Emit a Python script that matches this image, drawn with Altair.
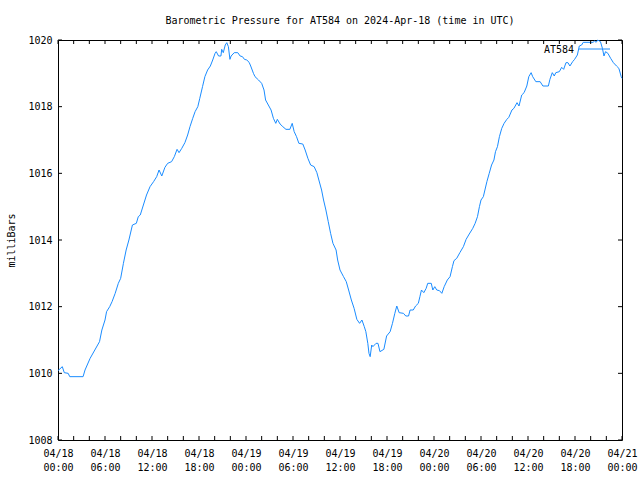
import altair as alt
import pandas as pd

# hours after 2024-04-18 00:00 UTC
hours = [0, 0.55, 0.8, 1.3, 1.5, 3.2, 3.45, 4.1, 4.7, 5.3, 5.6, 6.0, 6.2, 6.6, 6.9, 7.3, 7.7, 8.0,
         8.35, 8.7, 9.05, 9.5, 10.0, 10.25, 10.5, 10.9, 11.3, 11.75, 12.2, 12.6, 12.9, 13.25, 13.65,
         14.0, 14.5, 14.85, 15.2, 15.45, 15.8, 16.2, 16.55, 16.85, 17.2, 17.5, 17.85, 18.1, 18.45,
         18.75, 19.1, 19.45, 19.75, 20.05, 20.2, 20.5, 20.8, 20.9, 21.1, 21.35, 21.55, 21.75, 21.95,
         22.1, 22.5, 22.95, 23.25, 23.55, 23.8, 24.1, 24.4, 24.6, 24.95,
         25.15, 25.6, 26.0, 26.3, 26.5, 26.85, 27.2, 27.5, 27.8, 28.0, 28.35, 28.7, 29.1, 29.6, 29.9,
         30.15, 30.45, 30.75, 31.25, 31.55, 31.9, 32.25, 32.7, 33.05, 33.3, 33.65, 33.9, 34.2, 34.5,
         34.8, 35.1, 35.5, 35.7, 36.0, 36.45, 36.8, 37.1, 37.45, 37.8, 38.15, 38.5, 38.8, 39.1, 39.3,
         39.55, 39.7, 39.85, 40.05, 40.2, 40.6, 40.85, 41.1, 41.6, 41.95, 42.4, 42.7, 43.0, 43.25,
         43.55, 44.1, 44.4, 44.75, 44.95, 45.35, 45.65, 46.0, 46.2, 46.4, 46.7, 47.0, 47.2, 47.65,
         47.85, 48.1, 48.35, 48.7,
         49.0, 49.3, 49.7, 50.05, 50.35, 50.55, 50.9, 51.3, 51.75, 52.1, 52.5, 52.95, 53.25, 53.55,
         53.8, 54.0, 54.3, 54.5, 54.75, 55.05, 55.35, 55.65, 55.85, 56.1, 56.35, 56.65, 56.95, 57.3,
         57.55, 57.95, 58.2, 58.6, 58.85, 59.2, 59.5, 59.85, 60.1, 60.4, 60.6, 61.0, 61.55, 61.9,
         62.6, 62.8, 63.1, 63.35, 63.55, 64.0, 64.3, 64.55, 64.85, 65.1, 65.35, 65.7, 65.95, 66.3,
         66.55, 66.85, 67.05, 68.3, 68.5, 68.7, 68.9, 69.25, 69.5, 69.7, 69.9, 70.2, 70.55, 70.9,
         71.3, 71.6, 71.9, 72.0]

pressure = [1010.08, 1010.2, 1010.02, 1010.0, 1009.9, 1009.9, 1010.1, 1010.45, 1010.7, 1010.95,
            1011.3, 1011.6, 1011.85, 1012.0, 1012.15, 1012.4, 1012.7, 1012.85, 1013.3, 1013.7,
            1014.0, 1014.45, 1014.5, 1014.7, 1014.75, 1015.05, 1015.35, 1015.6, 1015.75, 1015.9,
            1016.1, 1015.92, 1016.18, 1016.3, 1016.35, 1016.5, 1016.72, 1016.62, 1016.75, 1016.92,
            1017.15, 1017.4, 1017.65, 1017.85, 1018.0, 1018.25, 1018.6, 1018.9, 1019.1, 1019.22,
            1019.4, 1019.6, 1019.65, 1019.52, 1019.52, 1019.72, 1019.62, 1019.85, 1019.92, 1019.8,
            1019.42, 1019.52, 1019.62, 1019.62, 1019.52, 1019.5, 1019.42, 1019.4, 1019.33, 1019.22,
            1019.0,
            1018.9, 1018.8, 1018.7, 1018.5, 1018.2, 1018.05, 1017.9, 1017.65, 1017.5, 1017.62,
            1017.48, 1017.4, 1017.32, 1017.32, 1017.5, 1017.25, 1017.1, 1016.9, 1016.88, 1016.7,
            1016.45, 1016.25, 1016.2, 1016.02, 1015.8, 1015.5, 1015.2, 1014.9, 1014.55, 1014.2,
            1013.9, 1013.7, 1013.4, 1013.1, 1012.9, 1012.75, 1012.5, 1012.2, 1011.95, 1011.62,
            1011.5, 1011.6, 1011.4, 1011.25, 1010.9, 1010.6, 1010.5, 1010.85, 1010.8, 1010.9,
            1010.9, 1010.65, 1010.72, 1011.12, 1011.25, 1011.5, 1011.8, 1012.02, 1011.82, 1011.8,
            1011.72, 1011.72, 1011.9, 1011.9, 1012.02, 1012.1, 1012.3, 1012.5, 1012.42, 1012.55,
            1012.7, 1012.7, 1012.5, 1012.6, 1012.5, 1012.48,
            1012.4, 1012.6, 1012.8, 1012.9, 1013.2, 1013.38, 1013.45, 1013.62, 1013.8, 1014.02,
            1014.18, 1014.35, 1014.5, 1014.7, 1015.0, 1015.2, 1015.3, 1015.5, 1015.75, 1016.0,
            1016.25, 1016.4, 1016.65, 1016.8, 1017.1, 1017.35, 1017.5, 1017.62, 1017.68, 1017.9,
            1017.95, 1018.12, 1018.02, 1018.35, 1018.42, 1018.62, 1018.9, 1019.02, 1018.9, 1018.75,
            1018.75, 1018.62, 1018.62, 1018.82, 1019.02, 1018.92, 1019.02, 1019.05, 1019.18,
            1019.12, 1019.32, 1019.32, 1019.22, 1019.35, 1019.42, 1019.55, 1019.82, 1019.85,
            1019.93, 1019.93, 1019.97, 1019.93, 1020.0, 1019.95, 1019.75, 1019.52, 1019.65,
            1019.6, 1019.45, 1019.32, 1019.22, 1019.15, 1018.9, 1018.85]

x_tick_hours = list(range(0, 73, 2))
x_label_hours = list(range(0, 73, 6))
y_ticks = [1008, 1010, 1012, 1014, 1016, 1018, 1020]

FONT = "DejaVu Sans Mono"
LINE_COLOR = "#1a8cff"
W, H = 564, 400

base = pd.Timestamp("2024-04-18T00:00:00Z")


def iso(h):
    return (base + pd.Timedelta(hours=h)).strftime("%Y-%m-%dT%H:%M:%SZ")


def dt(h):
    return alt.DateTime(year=2024, month=4, date=18 + h // 24, hours=h % 24, utc=True)


df = pd.DataFrame({"time": [iso(h) for h in hours], "pressure": pressure})
xticks_df = pd.DataFrame({"time": [iso(h) for h in x_tick_hours]})
yticks_df = pd.DataFrame({"pressure": y_ticks})

xscale = alt.Scale(type="utc", domain=[dt(0), dt(72)])
yscale = alt.Scale(domain=[1008, 1020], zero=False, nice=False)

x_axis = alt.Axis(values=[dt(h) for h in x_label_hours],
                  labelExpr="[utcFormat(datum.value, '%m/%d'), utcFormat(datum.value, '%H:%M')]",
                  labelFont=FONT, labelFontSize=10, labelColor="black",
                  labelLineHeight=14, labelPadding=8, labelBaseline="top",
                  ticks=False, tickSize=0, domain=False, grid=False,
                  labelOverlap=False, labelFlush=False, title=None)
y_axis = alt.Axis(values=y_ticks, format="d", labelFont=FONT, labelFontSize=10,
                  labelColor="black", labelPadding=6, ticks=False, tickSize=0,
                  domain=False, grid=False, title="milliBars",
                  titleFont=FONT, titleFontSize=10, titleFontWeight="normal",
                  titleColor="black", titleX=-47, titleY=200, titleAngle=-90,
                  titleAlign="center", titleBaseline="middle")

X = alt.X("time:T", scale=xscale, axis=x_axis, title="")
Y = alt.Y("pressure:Q", scale=yscale, axis=y_axis, title="milliBars")

line = alt.Chart(df).mark_line(color=LINE_COLOR, strokeWidth=1).encode(x=X, y=Y)

tick_b = alt.Chart(xticks_df).mark_rule(color="black", strokeWidth=1).encode(
    x=X, y=alt.value(H), y2=alt.value(H - 4))
tick_t = alt.Chart(xticks_df).mark_rule(color="black", strokeWidth=1).encode(
    x=X, y=alt.value(0), y2=alt.value(4))
tick_l = alt.Chart(yticks_df).mark_rule(color="black", strokeWidth=1).encode(
    y=Y, x=alt.value(0), x2=alt.value(4))
tick_r = alt.Chart(yticks_df).mark_rule(color="black", strokeWidth=1).encode(
    y=Y, x=alt.value(W), x2=alt.value(W - 4))

legend_df = pd.DataFrame({"name": ["AT584"]})
legend_text = alt.Chart(legend_df).mark_text(font=FONT, fontSize=10, align="right",
                                             baseline="middle", color="black").encode(
    text="name:N", x=alt.value(516), y=alt.value(10))
legend_line = alt.Chart(legend_df).mark_rule(color=LINE_COLOR, strokeWidth=1).encode(
    x=alt.value(521), x2=alt.value(552), y=alt.value(9))

chart = alt.layer(line, tick_b, tick_t, tick_l, tick_r, legend_text, legend_line).properties(
    width=W, height=H,
    title=alt.TitleParams("Barometric Pressure for AT584 on 2024-Apr-18 (time in UTC)",
                          font=FONT, fontSize=10, fontWeight="normal", color="black",
                          anchor="middle", offset=12, dy=3),
    autosize=alt.AutoSizeParams(type="none"),
    padding={"left": 58, "top": 40, "right": 18, "bottom": 40},
    background="white",
).configure_view(stroke="black", strokeWidth=1)

chart.save("out.html", embed_options={"renderer": "svg", "actions": False})
